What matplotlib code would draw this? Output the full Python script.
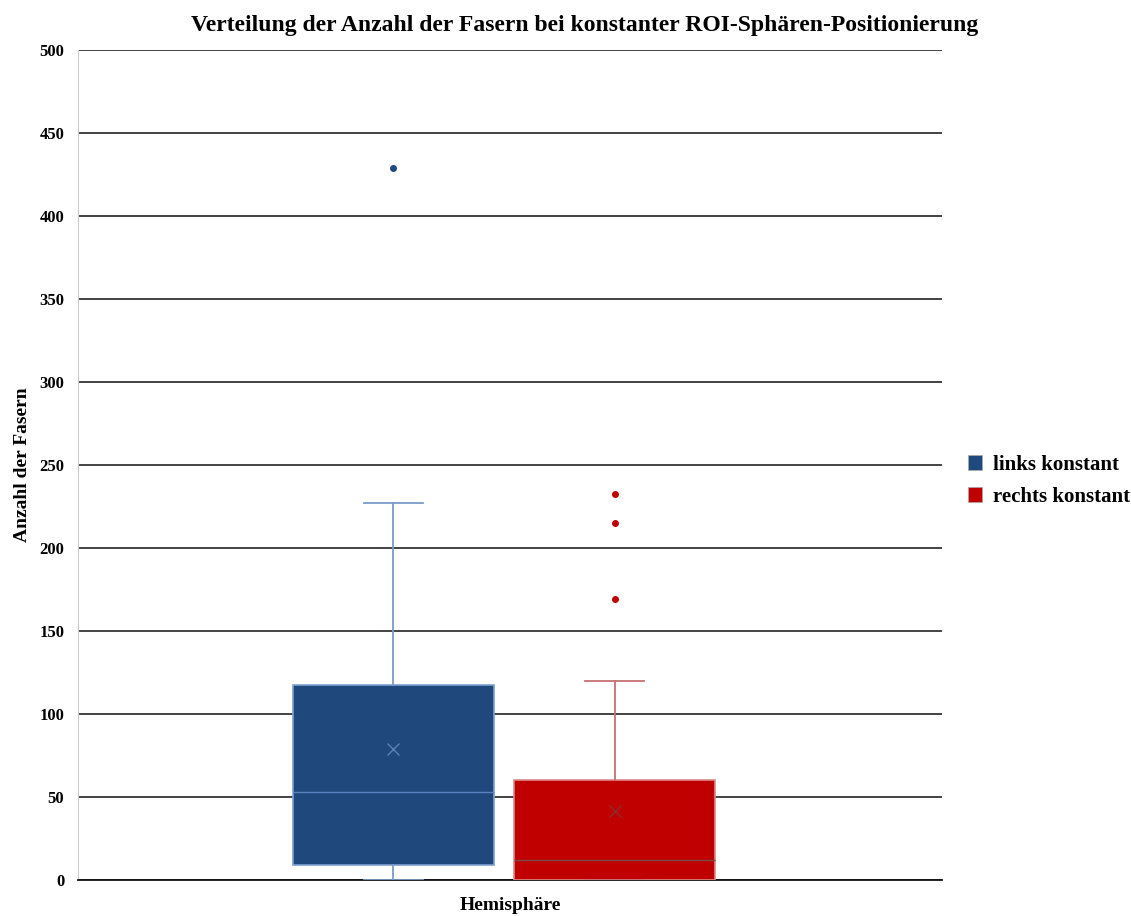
import matplotlib.pyplot as plt
from matplotlib import font_manager
from matplotlib.patches import Patch
import matplotlib.patheffects as pe

# Kennwerte der beiden Gruppen (Anzahl der Fasern)
groups = ["links konstant", "rechts konstant"]
q1 = [9.0, 0.0]
median = [52.8, 11.9]
q3 = [117.5, 60.2]
whisker_low = [0.0, 0.0]
whisker_high = [227.0, 120.0]
mean = [79.0, 41.6]
outliers = [[429.0], [232.5, 215.0, 169.0]]

fill_colors = ["#1f497d", "#c00000"]
edge_colors = ["#7f9fd0", "#d98a8a"]
whisker_colors = ["#7a9cc9", "#c87070"]
median_colors = ["#5b82be", "#7a4a4a"]
mean_colors = ["#5a7fb5", "#8a3030"]
positions = [0.365, 0.621]

plt.rcParams["font.family"] = ["Liberation Serif", "DejaVu Serif"]
plt.rcParams["font.weight"] = "bold"

# falls kein fetter Schnitt vorhanden ist, Kontur nachziehen
bold_file = font_manager.findfont(font_manager.FontProperties(family="Liberation Serif", weight="bold"))
fx = [] if "Bold" in bold_file else [pe.withStroke(linewidth=0.8, foreground="black")]

fig = plt.figure(figsize=(11.31, 9.16), dpi=100)
ax = fig.add_axes([0.069, 0.0393, 0.764, 0.9061])

for i in range(len(groups)):
    stats = [{
        "med": median[i], "q1": q1[i], "q3": q3[i],
        "whislo": whisker_low[i], "whishi": whisker_high[i],
        "mean": mean[i], "fliers": outliers[i],
    }]
    ax.bxp(stats, positions=[positions[i]], widths=0.233, capwidths=0.069,
           patch_artist=True, showmeans=True, manage_ticks=False,
           boxprops=dict(facecolor=fill_colors[i], edgecolor=edge_colors[i], linewidth=1.2),
           whiskerprops=dict(color=whisker_colors[i], linewidth=1.3),
           capprops=dict(color=whisker_colors[i], linewidth=1.3),
           medianprops=dict(color=median_colors[i], linewidth=1.0),
           meanprops=dict(marker="x", markeredgecolor=mean_colors[i], markersize=8,
                          markeredgewidth=1.0),
           flierprops=dict(marker="o", markerfacecolor=fill_colors[i],
                           markeredgecolor=fill_colors[i], markersize=4),
           zorder=3)

ax.set_xlim(0, 1)
ax.set_ylim(0, 500)
ax.set_yticks(range(0, 501, 50))
ax.set_xticks([])
ax.yaxis.grid(True, color="#222222", linewidth=1.2)
ax.set_axisbelow(True)
ax.tick_params(axis="y", length=0, pad=10, labelsize=12)
for lab in ax.get_yticklabels():
    lab.set_fontweight("bold")
    lab.set_path_effects(fx)

ax.spines["top"].set_visible(False)
ax.spines["right"].set_visible(False)
ax.spines["left"].set_color("#cccccc")
ax.spines["bottom"].set_color("#111111")
ax.spines["bottom"].set_linewidth(1.3)

xl = ax.set_xlabel("Hemisphäre", fontsize=14, fontweight="bold", labelpad=12)
yl = ax.set_ylabel("Anzahl der Fasern", fontsize=14, fontweight="bold", labelpad=6)
tt = ax.set_title("Verteilung der Anzahl der Fasern bei konstanter ROI-Sphären-Positionierung",
                  fontsize=17, fontweight="bold", pad=14, x=0.586)
for t in (xl, yl, tt):
    t.set_path_effects(fx)

handles = [Patch(facecolor=fill_colors[i], edgecolor="#aaaaaa", linewidth=0.5)
           for i in range(len(groups))]
leg = ax.legend(handles, groups, loc="center left", bbox_to_anchor=(1.008, 0.481),
                frameon=False, prop=dict(size=15, weight="bold"),
                handlelength=0.7, handleheight=0.7, handletextpad=0.5, labelspacing=0.55)
for t in leg.get_texts():
    t.set_path_effects(fx)

fig.savefig("out.png", dpi=100)
